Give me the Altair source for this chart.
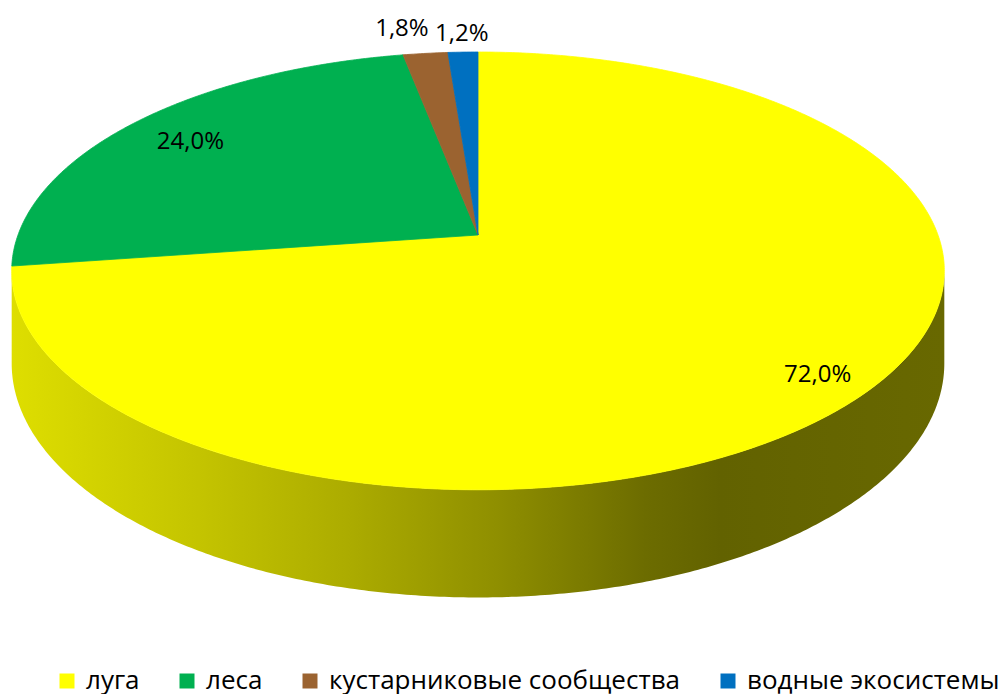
import math
import altair as alt
import pandas as pd

# ---- data ----
categories = ["луга", "леса", "кустарниковые сообщества", "водные экосистемы"]
values = [72.0, 24.0, 1.8, 1.2]
labels = ["72,0%", "24,0%", "1,8%", "1,2%"]
colors = ["#FFFF00", "#00B050", "#9B6330", "#0070C0"]

# ---- 3D pie projection (style) ----
CX, CY = 478, 235      # pie apex on screen
SX, SY = 460, 213      # horizontal / vertical radius factors
K = 0.164              # perspective strength
DROP = 90              # thickness of the pie
label_radius = [0.87, 0.80, 1.17, 1.17]
label_nudge = [(6, 6), (-9, -1), (-16, 2), (1, 8)]


def proj(phi_deg, r=1.0, drop=0.0):
    p = math.radians(phi_deg)
    u = r * math.sin(p)
    v = -r * math.cos(p)
    d = 1 - K * v
    return [CX + SX * u / d, CY + (SY * v + drop) / d]


def arc(a0, a1, drop=0.0):
    n = max(2, int(abs(a1 - a0) / 0.5) + 1)
    return [proj(a0 + (a1 - a0) * i / (n - 1), 1.0, drop) for i in range(n)]


total = sum(values)
starts, ends = [], []
acc = 0.0
for v in values:
    starts.append(acc / total * 360)
    acc += v
    ends.append(acc / total * 360)

# top face wedges
top_features = []
for name, a0, a1 in zip(categories, starts, ends):
    ring = [proj(0, 0.0)] + arc(a0, a1) + [proj(0, 0.0)]
    top_features.append({
        "type": "Feature",
        "geometry": {"type": "Polygon", "coordinates": [ring]},
        "properties": {"name": name},
    })

# visible side wall (front part, between silhouette tangent points)
t = math.degrees(math.acos(K))
phi1, phi2 = 180 - t, 180 + t
side_ring = arc(phi1, phi2) + arc(phi2, phi1, DROP)
side_ring.append(side_ring[0])
side_features = [{
    "type": "Feature",
    "geometry": {"type": "Polygon", "coordinates": [side_ring]},
    "properties": {"name": "side"},
}]

# labels
rows = []
for name, lab, a0, a1, r, (nx, ny) in zip(categories, labels, starts, ends,
                                            label_radius, label_nudge):
    x, y = proj((a0 + a1) / 2, r)
    rows.append({"name": name, "label": lab, "x": x + nx, "y": y + ny})
label_df = pd.DataFrame(rows)

gradient = alt.LinearGradient(
    gradient="linear",
    stops=[
        alt.GradientStop(color="#dede00", offset=0),
        alt.GradientStop(color="#c4c400", offset=0.2),
        alt.GradientStop(color="#acac00", offset=0.36),
        alt.GradientStop(color="#8f8f00", offset=0.52),
        alt.GradientStop(color="#6c6c00", offset=0.68),
        alt.GradientStop(color="#626200", offset=0.76),
        alt.GradientStop(color="#686800", offset=1),
    ],
    x1=0, x2=1, y1=0, y2=0,
)

side = alt.Chart(alt.Data(values=side_features)).mark_geoshape(
    fill=gradient, strokeWidth=0
)

top = alt.Chart(alt.Data(values=top_features)).mark_geoshape(strokeWidth=0.8).encode(
    fill=alt.Fill(
        "properties.name:N",
        scale=alt.Scale(domain=categories, range=colors),
        legend=alt.Legend(
            title=None,
            orient="none",
            legendX=54,
            legendY=668,
            direction="horizontal",
            symbolType="square",
            symbolSize=225,
            symbolStrokeWidth=0,
            labelFont="Open Sans",
            labelFontSize=26,
            labelColor="#000000",
            labelOffset=6,
            columnPadding=34,
            labelLimit=600,
        ),
    ),
    stroke=alt.Stroke(
        "properties.name:N",
        scale=alt.Scale(domain=categories, range=colors),
        legend=None,
    ),
)

text = alt.Chart(label_df).mark_text(
    font="Open Sans", fontSize=24, color="#000000"
).encode(
    longitude="x:Q",
    latitude="y:Q",
    text="label:N",
)

chart = alt.layer(side, top, text).project(
    type="identity", scale=1, translate=[0, 0]
).properties(
    width=998, height=694, padding=0, autosize=alt.AutoSizeParams(type="none")
).configure_view(strokeWidth=0)

chart.save("out.html", embed_options={"renderer": "svg", "actions": False})
